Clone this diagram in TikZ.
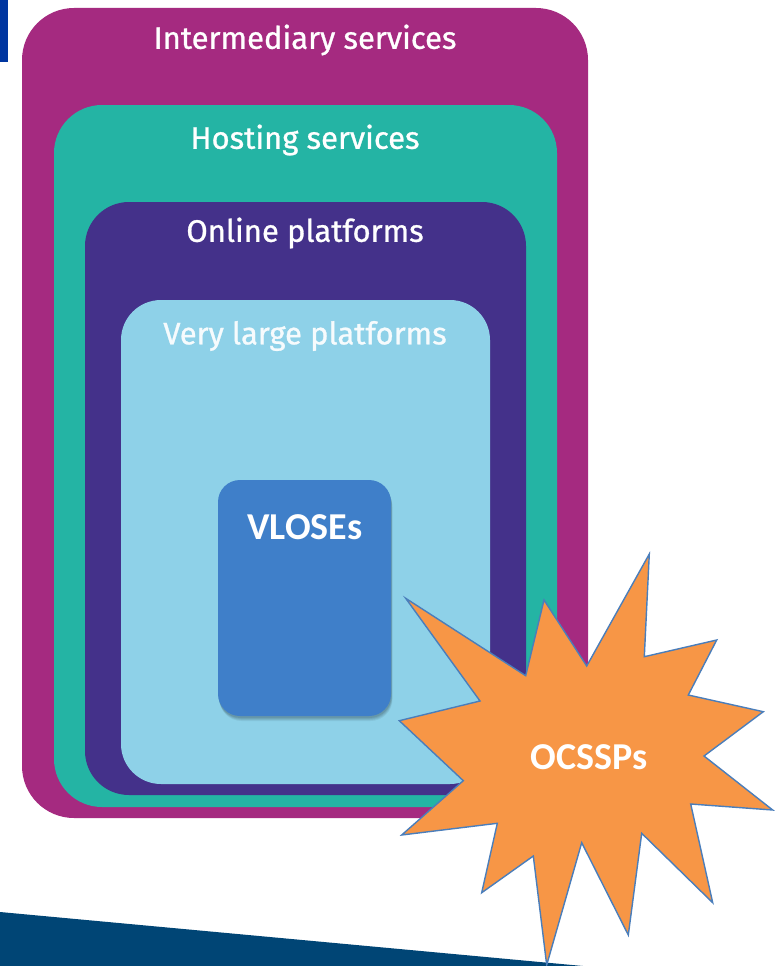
\documentclass[tikz,border=0pt]{standalone}
\usepackage{fontspec}
\setmainfont{Fira Sans}
\newfontfamily\titlefont{Fira Sans}[BoldFont=Fira Sans, BoldFeatures={FakeBold=0.9}]
\newfontfamily\boldlabel{Carlito}[BoldFont=* Bold]
\usetikzlibrary{shadows}
\definecolor{tabblue}{HTML}{0036A0}
\definecolor{magentaL}{HTML}{A52A80}
\definecolor{tealL}{HTML}{24B4A4}
\definecolor{purpleL}{HTML}{44318A}
\definecolor{skyL}{HTML}{8ED1E8}
\definecolor{vloseBlue}{HTML}{3F7FC9}
\definecolor{starFill}{HTML}{F79646}
\definecolor{starLine}{HTML}{4A7EBB}
\definecolor{bandBlue}{HTML}{004575}
\tikzset{
  layer/.style={rounded corners=#1},
  title/.style={text=white, font=\fontsize{31}{33}\titlefont\bfseries, anchor=center, inner sep=0pt},
  bigbold/.style={text=white, font=\fontsize{38}{40}\selectfont\boldlabel\bfseries, anchor=center, inner sep=0pt}
}
\begin{document}
\begin{tikzpicture}[x=1pt,y=-1pt]
\useasboundingbox (0,0) rectangle (778,966);
\fill[white] (0,0) rectangle (778,966);

% corner tab and bottom band
\fill[tabblue] (0,0) rectangle (8,62);
\fill[bandBlue] (0,912) -- (583,966) -- (0,966) -- cycle;

% nested service categories
\fill[magentaL, layer=52] (22,8) rectangle (588,818);
\fill[tealL, layer=48] (54,105) rectangle (557,807);
\fill[purpleL, layer=44] (85,202) rectangle (526,795);
\fill[skyL, layer=40] (121,300) rectangle (490,784);

\node[title] (inter) at (305,40) {Intermediary services};
\node[title] (host) at (305,140) {Hosting services};
\node[title] (online) at (305,233) {Online platforms};
\node[title, text=white!92!skyL] (vlop) at (305,336) {Very large platforms};

% very large online search engines
\foreach \o/\a in {5/0.06,4/0.07,3/0.08,2/0.09}
  \fill[black, opacity=\a, rounded corners=22] (218+\o*0.3,480+\o) rectangle (391+\o*0.3,716+\o);
\fill[vloseBlue, rounded corners=22] (218,480) rectangle (391,716);
\node[bigbold] (vlose) at (305,527) {VLOSEs};

% online content-sharing service providers
\coordinate (t1) at (649.3,554);
\coordinate (i1) at (644.3,656.7);
\coordinate (t2) at (716.7,640);
\coordinate (i2) at (688.3,695);
\coordinate (t3) at (763.3,711.7);
\coordinate (i3) at (704,756);
\coordinate (t4) at (772.7,810);
\coordinate (i4) at (690.7,804);
\coordinate (t5) at (712.7,902.7);
\coordinate (i5) at (641.7,833.3);
\coordinate (t6) at (628.3,935);
\coordinate (i6) at (581.7,842.7);
\coordinate (t7) at (546.7,965);
\coordinate (i7) at (533.3,856);
\coordinate (t8) at (481.7,892.7);
\coordinate (i8) at (497.3,823.3);
\coordinate (t9) at (401.7,835);
\coordinate (i9) at (463.3,780.7);
\coordinate (t10) at (399.3,720.7);
\coordinate (i10) at (480,701);
\coordinate (t11) at (405.7,598.3);
\coordinate (i11) at (525.7,675.7);
\coordinate (t12) at (544,600);
\coordinate (i12) at (586.7,666);
\foreach \o/\a in {3/0.08,2/0.1}
  \fill[black, opacity=\a, shift={(\o*0.6,\o)}]
    (t1)--(i1)--(t2)--(i2)--(t3)--(i3)--(t4)--(i4)--(t5)--(i5)--(t6)--(i6)--
    (t7)--(i7)--(t8)--(i8)--(t9)--(i9)--(t10)--(i10)--(t11)--(i11)--(t12)--(i12)--cycle;
\filldraw[fill=starFill, draw=starLine, line width=1.4pt, line join=miter]
    (t1)--(i1)--(t2)--(i2)--(t3)--(i3)--(t4)--(i4)--(t5)--(i5)--(t6)--(i6)--
    (t7)--(i7)--(t8)--(i8)--(t9)--(i9)--(t10)--(i10)--(t11)--(i11)--(t12)--(i12)--cycle;
\node[bigbold] (ocssp) at (589,757) {OCSSPs};
\end{tikzpicture}
\end{document}
